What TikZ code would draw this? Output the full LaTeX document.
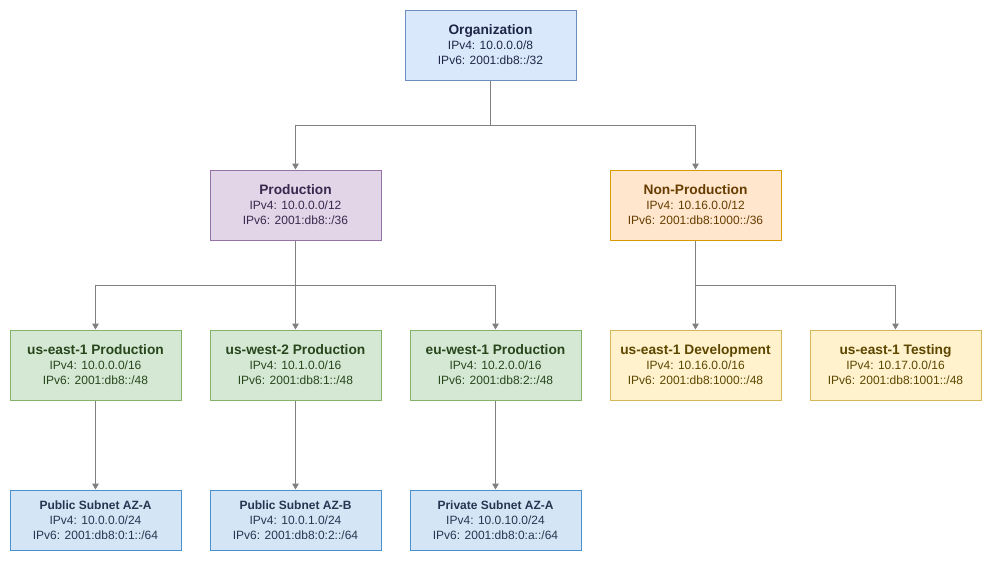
\documentclass[tikz,border=0pt]{standalone}
\usepackage{fontspec}
\setsansfont{Liberation Sans}
\usepackage{tikz}
\definecolor{orgfill}{RGB}{218,232,252}
\definecolor{orgline}{RGB}{108,142,191}
\definecolor{orgtext}{RGB}{30,38,70}
\definecolor{prodfill}{RGB}{225,213,231}
\definecolor{prodline}{RGB}{150,115,166}
\definecolor{prodtext}{RGB}{58,40,78}
\definecolor{npfill}{RGB}{255,230,204}
\definecolor{npline}{RGB}{215,155,0}
\definecolor{nptext}{RGB}{102,60,0}
\definecolor{regfill}{RGB}{213,232,212}
\definecolor{regline}{RGB}{130,179,102}
\definecolor{regtext}{RGB}{40,70,28}
\definecolor{devfill}{RGB}{255,242,204}
\definecolor{devline}{RGB}{214,182,86}
\definecolor{devtext}{RGB}{92,70,0}
\definecolor{subfill}{RGB}{212,230,246}
\definecolor{subline}{RGB}{74,144,208}
\definecolor{subtext}{RGB}{40,52,80}
\definecolor{linkgray}{RGB}{128,128,128}
\usetikzlibrary{arrows.meta, positioning}
\newcommand{\boxtitle}[2][10.3]{{\fontsize{#1}{11.25}\selectfont\bfseries #2}}

\begin{document}
\begin{tikzpicture}[
  x=0.75pt, y=-0.75pt,
  >={Triangle[width=5pt,length=4.5pt]},
  every node/.style={font=\sffamily\fontsize{9}{11.25}\selectfont},
  net box/.style={draw, line width=0.75pt, minimum width=128.25pt,
                  minimum height=52.5pt, align=center, inner sep=0pt},
  subnet box/.style={net box, minimum height=45pt, draw=subline, fill=subfill, text=subtext},
  link/.style={->, draw=linkgray, line width=0.75pt},
]
  \useasboundingbox (0,0) rectangle (991,561);

  % top level
  \node[net box, draw=orgline, fill=orgfill, text=orgtext] (org) at (490.5,45)
    {\boxtitle{Organization}\\IPv4: 10.0.0.0/8\\IPv6: 2001:db8::/32};

  % environments
  \node[net box, draw=prodline, fill=prodfill, text=prodtext] (prod) at (295.5,205)
    {\boxtitle{Production}\\IPv4: 10.0.0.0/12\\IPv6: 2001:db8::/36};
  \node[net box, draw=npline, fill=npfill, text=nptext] (nonprod) at (695.5,205)
    {\boxtitle{Non-Production}\\IPv4: 10.16.0.0/12\\IPv6: 2001:db8:1000::/36};

  % regions
  \node[net box, draw=regline, fill=regfill, text=regtext] (useast) at (95.5,365)
    {\boxtitle{us-east-1 Production}\\IPv4: 10.0.0.0/16\\IPv6: 2001:db8::/48};
  \node[net box, draw=regline, fill=regfill, text=regtext] (uswest) at (295.5,365)
    {\boxtitle{us-west-2 Production}\\IPv4: 10.1.0.0/16\\IPv6: 2001:db8:1::/48};
  \node[net box, draw=regline, fill=regfill, text=regtext] (euwest) at (495.5,365)
    {\boxtitle{eu-west-1 Production}\\IPv4: 10.2.0.0/16\\IPv6: 2001:db8:2::/48};
  \node[net box, draw=devline, fill=devfill, text=devtext] (usdev) at (695.5,365)
    {\boxtitle{us-east-1 Development}\\IPv4: 10.16.0.0/16\\IPv6: 2001:db8:1000::/48};
  \node[net box, draw=devline, fill=devfill, text=devtext] (ustest) at (895.5,365)
    {\boxtitle{us-east-1 Testing}\\IPv4: 10.17.0.0/16\\IPv6: 2001:db8:1001::/48};

  % subnets
  \node[subnet box] (puba) at (95.5,520)
    {\boxtitle[9]{Public Subnet AZ-A}\\IPv4: 10.0.0.0/24\\IPv6: 2001:db8:0:1::/64};
  \node[subnet box] (pubb) at (295.5,520)
    {\boxtitle[9]{Public Subnet AZ-B}\\IPv4: 10.0.1.0/24\\IPv6: 2001:db8:0:2::/64};
  \node[subnet box] (priva) at (495.5,520)
    {\boxtitle[9]{Private Subnet AZ-A}\\IPv4: 10.0.10.0/24\\IPv6: 2001:db8:0:a::/64};

  % connectors
  \draw[link] (org.south) -- ++(0,45) -| (prod.north);
  \draw[link] (org.south) -- ++(0,45) -| (nonprod.north);
  \draw[link] (prod.south) -- ++(0,45) -| (useast.north);
  \draw[link] (prod.south) -- ++(0,45) -| (uswest.north);
  \draw[link] (prod.south) -- ++(0,45) -| (euwest.north);
  \draw[link] (nonprod.south) -- ++(0,45) -| (usdev.north);
  \draw[link] (nonprod.south) -- ++(0,45) -| (ustest.north);
  \draw[link] (useast) -- (puba);
  \draw[link] (uswest) -- (pubb);
  \draw[link] (euwest) -- (priva);
\end{tikzpicture}
\end{document}
